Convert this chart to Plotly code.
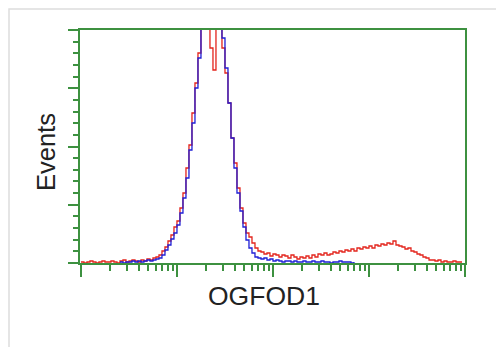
import numpy as np
import plotly.graph_objects as go

# histogram counts per channel (128 log channels over 4 decades)
red_counts = [1, 0, 1, 2, 1, 0, 1, 2, 1, 1, 2, 1, 0, 2, 3, 1, 2, 3, 2, 1, 3,
              2, 4, 3, 5, 6, 8, 12, 16, 22, 28, 36, 42, 55, 70, 95, 118, 150, 180, 210,
              236, 245, 250, 215, 193, 240, 250, 215, 190, 160, 125, 100, 75, 55, 40, 30,
              26, 20, 15, 12, 11, 9, 10, 7, 9, 8,
              6, 8, 7, 5, 8, 6, 4, 6, 5, 7,
              5, 8, 6, 9, 8, 10, 8, 9, 11, 10,
              12, 11, 13, 12, 14, 12, 15, 14, 16, 15,
              17, 15, 18, 17, 19, 18, 20, 19, 22, 18,
              17, 16, 14, 15, 12, 11, 9, 8, 6, 5,
              3, 3, 2, 3, 1, 2, 1, 1, 2, 1, 1, 1]
blue_first = 13
blue_counts = [1, 0, 1, 1, 2, 1, 2, 1, 2, 3, 2, 3, 4, 5, 8, 13, 18, 24, 30, 38,
               50, 65, 85, 113, 140, 175, 205, 240, 250, 245, 238, 250, 245, 240, 225, 195,
               160, 125, 95, 70, 52, 36, 23, 15, 10, 6, 5, 4, 5, 3, 4, 2, 3, 2, 1,
               2, 2, 1, 2, 1, 1, 2, 1, 1, 2, 1, 1, 2, 1, 1, 0, 1, 1, 2, 1, 1, 1, 0, 1]

n_channels = 128
channels = np.arange(n_channels)
intensity = 10 ** (channels * 4 / n_channels)

green = "#3d9140"
ymax = 233

fig = go.Figure()
fig.add_trace(go.Scatter(x=intensity, y=red_counts, mode="lines", line_shape="hv",
                         line=dict(color="#e3241c", width=1.3), hoverinfo="skip"))
fig.add_trace(go.Scatter(x=intensity[blue_first:blue_first + len(blue_counts)], y=blue_counts,
                         mode="lines", line_shape="hv",
                         line=dict(color="#1f1fd6", width=1.3), hoverinfo="skip"))

minor_x = [k * 10 ** d for d in range(4) for k in range(2, 10)]

# page body adds an 8px offset, so the figure sits at (8, 8)
fig.update_layout(
    width=496, height=339,
    margin=dict(l=72, r=39, t=22, b=84),
    paper_bgcolor="white", plot_bgcolor="white",
    showlegend=False,
    xaxis=dict(type="log", range=[-0.01, 4.0], showgrid=False, zeroline=False,
               showline=True, mirror=True, linecolor=green, linewidth=2,
               tickvals=[1, 10, 100, 1000, 10000], ticks="outside", ticklen=12,
               tickwidth=2, tickcolor=green, showticklabels=False,
               minor=dict(tickvals=minor_x, ticks="outside", ticklen=6,
                          tickwidth=1.5, tickcolor=green, showgrid=False)),
    yaxis=dict(range=[0, ymax], showgrid=False, zeroline=False,
               showline=True, mirror=True, linecolor=green, linewidth=2,
               tick0=0, dtick=ymax / 4, ticks="outside", ticklen=10,
               tickwidth=2, tickcolor=green, showticklabels=False,
               minor=dict(dtick=ymax / 20, ticks="outside", ticklen=5,
                          tickwidth=1.5, tickcolor=green, showgrid=False)),
    font=dict(family="Liberation Sans, Arial", color="#222222"),
)

fig.add_annotation(text="OGFOD1", xref="paper", yref="paper",
                   x=(264 - 80) / 385, y=(263 - 296) / 233, showarrow=False,
                   font=dict(size=26.5), xanchor="center", yanchor="middle")
fig.add_annotation(text="Events", xref="paper", yref="paper",
                   x=(46 - 80) / 385, y=(263 - 152) / 233, showarrow=False,
                   textangle=-90, font=dict(size=25.5), xanchor="center", yanchor="middle")

# light frame around the whole picture
fig.add_shape(type="rect", xref="paper", yref="paper",
              x0=(9 - 80) / 385, x1=(500 - 80) / 385,
              y0=(263 - 360) / 233, y1=(263 - 9) / 233,
              line=dict(color="#dddddd", width=1.5), layer="below")

fig.write_html("out.html")
